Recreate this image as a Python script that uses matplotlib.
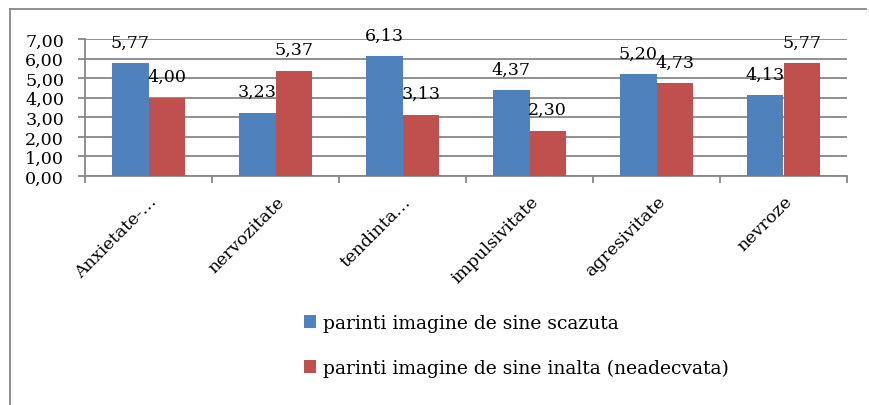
import numpy as np
import matplotlib.pyplot as plt
from matplotlib.lines import Line2D

# data
categories = ["Anxietate-…", "nervozitate", "tendinta…", "impulsivitate", "agresivitate", "nevroze"]
scazuta = [5.77, 3.23, 6.13, 4.37, 5.20, 4.13]
inalta = [4.00, 5.37, 3.13, 2.30, 4.73, 5.77]
series_names = ["parinti imagine de sine scazuta", "parinti imagine de sine inalta (neadecvata)"]
y_ticks = [0, 1, 2, 3, 4, 5, 6, 7]

blue = "#4F81BD"
red = "#C0504D"
grid_col = "#878787"

plt.rcParams['font.family'] = ['DejaVu Serif']
fs = 12.6

fig = plt.figure(figsize=(8.69, 4.06), dpi=100)
ax = fig.add_axes([85 / 869, 1 - 177 / 406, 762 / 869, 137 / 406])

x = np.arange(len(categories))
w = 1 / 3.5
b1 = ax.bar(x - w / 2, scazuta, w, color=blue, label=series_names[0], zorder=3)
b2 = ax.bar(x + w / 2, inalta, w, color=red, label=series_names[1], zorder=3)

for bars, vals in ((b1, scazuta), (b2, inalta)):
    for r, v in zip(bars, vals):
        ax.annotate(f"{v:.2f}".replace(".", ","),
                    (r.get_x() + r.get_width() / 2, v),
                    xytext=(0, 12), textcoords="offset points",
                    ha="center", va="baseline", fontsize=fs, zorder=4)

ax.set_xlim(-0.5, len(categories) - 0.5)
ax.set_ylim(0, 7)
ax.set_yticks(y_ticks)
ax.set_yticklabels([f"{t:.2f}".replace(".", ",") for t in y_ticks], fontsize=fs)
ax.yaxis.grid(True, color=grid_col, linewidth=1.3, zorder=0)

ax.set_xticks(np.arange(-0.5, len(categories), 1))
ax.set_xticklabels([])
ax.set_xticks(x, minor=True)
ax.set_xticklabels(categories, minor=True, rotation=45, ha="right",
                   rotation_mode="anchor", fontsize=fs)
ax.tick_params(axis="x", which="minor", length=0, pad=12)
ax.tick_params(axis="x", which="major", length=5, color=grid_col, width=1.3)
ax.tick_params(axis="y", length=5, color=grid_col, width=1.3, pad=10)

for s in ("top", "right"):
    ax.spines[s].set_visible(False)
for s in ("left", "bottom"):
    ax.spines[s].set_color(grid_col)
    ax.spines[s].set_linewidth(1.3)

fig.legend(handles=[b1, b2], loc="upper left", bbox_to_anchor=(287 / 869, 1 - 298 / 406),
           frameon=False, fontsize=13.5, handlelength=0.65, handleheight=0.65,
           handletextpad=0.35, labelspacing=1.45)

# outer chart frame: only the top and left edges show in the picture
x0, y0 = 9.5 / 869, 1 - 10 / 406
fig.add_artist(Line2D([x0, 866 / 869], [y0, y0], transform=fig.transFigure,
                      color=grid_col, linewidth=1.3))
fig.add_artist(Line2D([x0, x0], [y0, 0], transform=fig.transFigure,
                      color=grid_col, linewidth=1.3))

fig.savefig("out.png", dpi=100)
